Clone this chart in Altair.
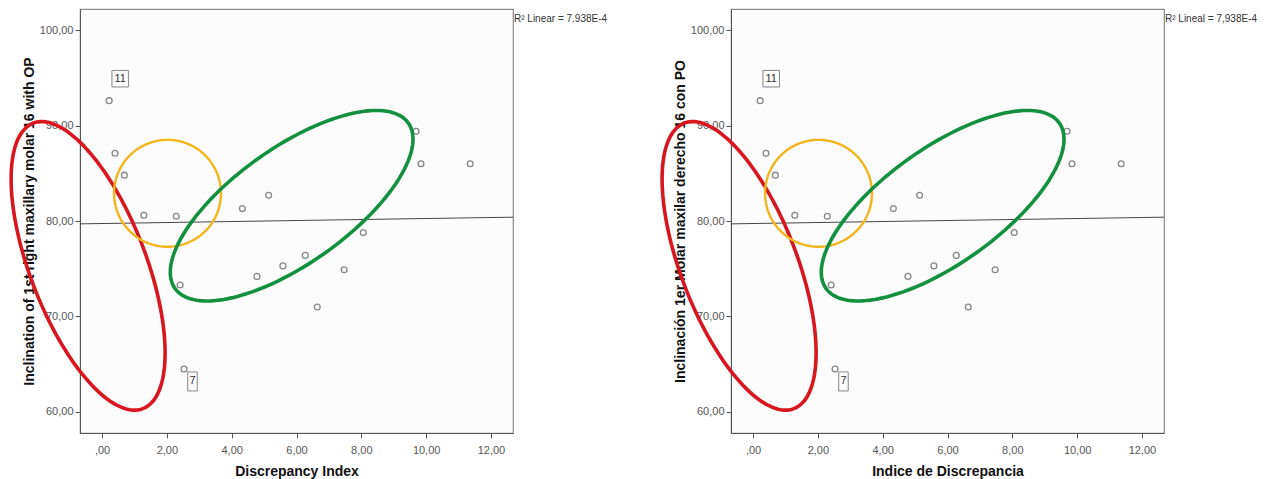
import altair as alt
import numpy as np
import pandas as pd

# ---- data ----
disc_index = [0.22, 0.40, 0.69, 1.29, 2.29, 2.41, 2.53, 4.33, 4.78, 5.14,
              5.58, 6.27, 6.64, 7.47, 8.06, 9.69, 9.84, 11.36]
inclination = [92.6, 87.1, 84.8, 80.6, 80.5, 73.3, 64.5, 81.3, 74.2, 82.7,
               75.3, 76.4, 71.0, 74.9, 78.8, 89.4, 86.0, 86.0]

fit_x = [-0.68, 12.68]
fit_y = [79.7, 80.4]

label_text = ["11", "7"]
label_x = [0.56, 2.79]
label_y = [94.9, 63.2]

# hand-drawn annotation ellipses (centre and two half-axis vectors, data units)
ell_name = ["red", "yellow", "green"]
ell_cx = [-0.43, 2.02, 5.85]
ell_cy = [75.3, 82.9, 81.6]
ell_ax = [1.69, 1.65, 3.60]
ell_ay = [-14.95, 0.0, 8.66]
ell_bx = [1.67, 0.0, 1.03]
ell_by = [2.18, 5.60, -4.95]

x_ticks = [0, 2, 4, 6, 8, 10, 12]
y_ticks = [60, 70, 80, 90, 100]
x_domain = [-0.68, 12.68]
y_domain = [57.8, 102.2]

pts = pd.DataFrame({"x": disc_index, "y": inclination})
fit = pd.DataFrame({"x": fit_x, "y": fit_y})
labels = pd.DataFrame({"t": label_text, "x": label_x, "y": label_y})

rows = []
tt = np.linspace(0, 2 * np.pi, 145)
for i, name in enumerate(ell_name):
    for k, t in enumerate(tt):
        rows.append({"e": name, "k": k,
                     "x": ell_cx[i] + ell_ax[i] * np.cos(t) + ell_bx[i] * np.sin(t),
                     "y": ell_cy[i] + ell_ay[i] * np.cos(t) + ell_by[i] * np.sin(t)})
ell = pd.DataFrame(rows)

FONT = "Liberation Sans"
lab_expr = "datum.value == 0 ? ',00' : replace(format(datum.value, '.2f'), '.', ',')"

ell_colors = {"red": ("#d9161f", 3.6), "yellow": ("#f4b51c", 2.4), "green": ("#12903f", 3.6)}


def panel(xtitle, ytitle, r2):
    xs = alt.Scale(domain=x_domain, nice=False, zero=False)
    ys = alt.Scale(domain=y_domain, nice=False, zero=False)
    xax = alt.Axis(values=x_ticks, labelExpr=lab_expr, title=xtitle, grid=False,
                   tickSize=5, labelPadding=6, titlePadding=9, labelFontSize=11,
                   titleFontSize=14, titleFontWeight="bold", titleColor="#111",
                   labelColor="#555", tickColor="#555", domainColor="#555",
                   labelFont=FONT, titleFont=FONT)
    yax = alt.Axis(values=y_ticks, labelExpr=lab_expr, title=ytitle, grid=False,
                   tickSize=5, labelPadding=2, titlePadding=3, labelFontSize=11,
                   titleFontSize=14, titleFontWeight="bold", titleColor="#111",
                   labelColor="#555", tickColor="#555", domainColor="#555",
                   labelFont=FONT, titleFont=FONT)

    line = alt.Chart(fit).mark_line(color="#444", strokeWidth=1).encode(
        x=alt.X("x:Q", scale=xs, axis=xax), y=alt.Y("y:Q", scale=ys, axis=yax))
    points = alt.Chart(pts).mark_point(shape="circle", filled=False, size=34,
                                       color="#555", strokeWidth=1.3).encode(
        x=alt.X("x:Q", scale=xs), y=alt.Y("y:Q", scale=ys))
    layers = [line, points]
    for name in ell_name:
        c, w = ell_colors[name]
        layers.append(
            alt.Chart(ell).transform_filter(alt.datum.e == name)
            .mark_line(color=c, strokeWidth=w, clip=False)
            .encode(x=alt.X("x:Q", scale=xs), y=alt.Y("y:Q", scale=ys), order="k:Q"))
    box11 = alt.Chart(labels).transform_filter(alt.datum.t == "11").mark_point(
        shape="M-1,-1H1V1H-1Z", size=272, filled=False, color="#555", strokeWidth=1
    ).encode(x=alt.X("x:Q", scale=xs), y=alt.Y("y:Q", scale=ys))
    box7 = alt.Chart(labels).transform_filter(alt.datum.t == "7").mark_point(
        shape="M-0.5,-1H0.5V1H-0.5Z", size=361, filled=False, color="#555", strokeWidth=1
    ).encode(x=alt.X("x:Q", scale=xs), y=alt.Y("y:Q", scale=ys))
    txt = alt.Chart(labels).mark_text(font=FONT, fontSize=11, color="#333").encode(
        x=alt.X("x:Q", scale=xs), y=alt.Y("y:Q", scale=ys), text="t:N")
    r2df = pd.DataFrame({"x": [x_domain[1]], "y": [101.15], "t": [r2]})
    r2txt = alt.Chart(r2df).mark_text(font=FONT, fontSize=10, color="#333",
                                      align="left", dx=1, clip=False).encode(
        x=alt.X("x:Q", scale=xs), y=alt.Y("y:Q", scale=ys), text="t:N")
    layers += [box11, box7, txt, r2txt]
    return alt.layer(*layers).properties(width=433, height=424)


left = panel("Discrepancy Index", "Inclination of 1st right maxillary molar 16 with OP",
             "R² Linear = 7.938E-4")
right = panel("Indice de Discrepancia", "Inclinación 1er Molar maxilar derecho 16 con PO",
              "R² Lineal = 7,938E-4")

chart = alt.hconcat(left, right, spacing=218, bounds="flush").properties(
    padding={"left": -5, "top": 0, "right": 2, "bottom": 2}
).configure_view(stroke="#8a8a8a", strokeWidth=1.2, fill="#fcfcfc")

chart.save("out.html", embed_options={"renderer": "svg", "actions": False})
